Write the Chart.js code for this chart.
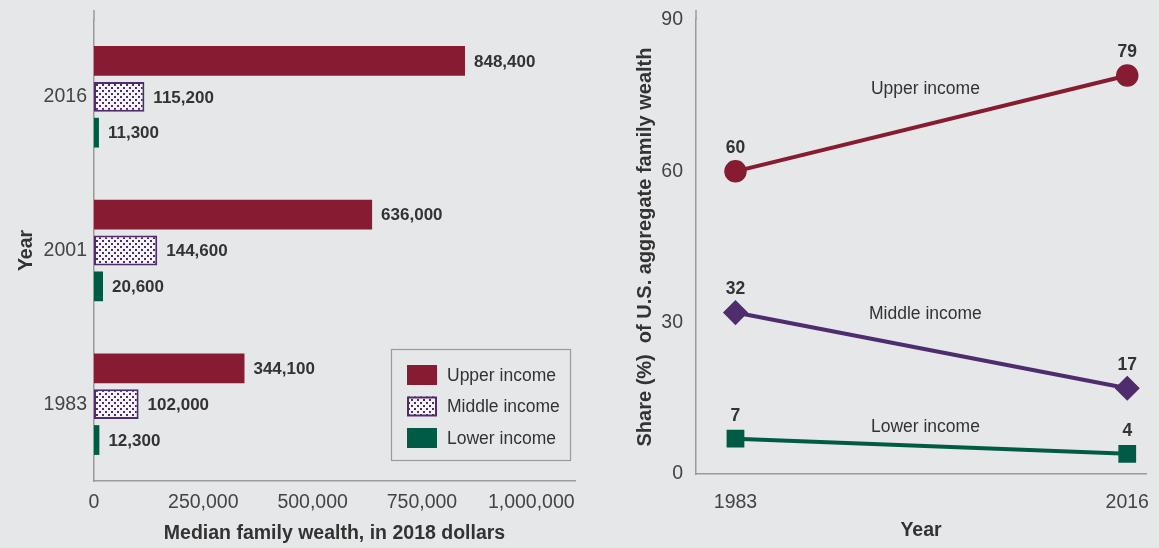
<!DOCTYPE html>
<html>
<head>
<meta charset="utf-8">
<script src="https://cdn.jsdelivr.net/npm/chart.js@4.4.1/dist/chart.umd.min.js"></script>
<style>
  html, body { margin: 0; padding: 0; background: #e6e7e9; }
  #wrap { position: relative; width: 1159px; height: 548px; overflow: hidden; }
  #wealth { position: absolute; left: 0; top: 0; }
  #share { position: absolute; left: 600px; top: 0; }
</style>
</head>
<body>
<div id="wrap">
  <canvas id="wealth" width="600" height="548"></canvas>
  <canvas id="share" width="559" height="548"></canvas>
</div>
<script>
// Median family wealth by income tier (2018 dollars)
const years = ['2016', '2001', '1983'];
const upperWealth = [848400, 636000, 344100];
const middleWealth = [115200, 144600, 102000];
const lowerWealth = [11300, 20600, 12300];
const wealthTicks = [0, 250000, 500000, 750000, 1000000];

// Share of U.S. aggregate family wealth (%)
const shareYears = [1983, 2016];
const upperShare = [60, 79];
const middleShare = [32, 17];
const lowerShare = [7, 4];
const shareTicks = [0, 30, 60, 90];

const tierNames = ['Upper income', 'Middle income', 'Lower income'];

const FONT = "'Liberation Sans Narrow', 'Arial Narrow', 'Liberation Sans', Arial, sans-serif";
const MAROON = '#861b32';
const PURPLE = '#4f2c6e';
const TEAL = '#005b45';
const TEXT = '#333333';
const TICK = '#444444';
const AXIS = '#9a9a9a';

Chart.defaults.font.family = FONT;
Chart.defaults.color = TICK;
Chart.defaults.animation = false;

// dotted fill used for the middle-income bars
function dotPattern(color) {
  const tile = document.createElement('canvas');
  tile.width = 6; tile.height = 6;
  const g = tile.getContext('2d');
  g.fillStyle = '#f4f3f6';
  g.fillRect(0, 0, 6, 6);
  g.fillStyle = color;
  g.fillRect(0, 0, 2, 2);
  g.fillRect(3, 3, 2, 2);
  return g.createPattern(tile, 'repeat');
}
const middleFill = dotPattern(PURPLE);

// keep the plot area fixed: no automatic room for overhanging tick labels
function noOverhang(scale) {
  scale.paddingLeft = 0;
  scale.paddingRight = 0;
  scale.paddingTop = 0;
  scale.paddingBottom = 0;
}

// extends the y axis line a little above the plot
const axisStub = {
  id: 'axisStub',
  afterDraw(chart) {
    const { ctx, chartArea } = chart;
    ctx.save();
    ctx.strokeStyle = AXIS;
    ctx.lineWidth = 1.5;
    ctx.beginPath();
    ctx.moveTo(chartArea.left, chartArea.top - 10);
    ctx.lineTo(chartArea.left, chartArea.top);
    ctx.stroke();
    ctx.restore();
  }
};

// value labels at the end of each bar
const barValues = {
  id: 'barValues',
  afterDatasetsDraw(chart) {
    const { ctx } = chart;
    ctx.save();
    ctx.font = 'bold 17px ' + FONT;
    ctx.fillStyle = TEXT;
    ctx.textAlign = 'left';
    ctx.textBaseline = 'middle';
    chart.data.datasets.forEach((ds, i) => {
      chart.getDatasetMeta(i).data.forEach((bar, j) => {
        ctx.fillText(ds.data[j].toLocaleString('en-US'), bar.x + 9, bar.y + 1);
      });
    });
    ctx.restore();
  }
};

// boxed legend in the lower right of the bar plot
const boxLegend = {
  id: 'boxLegend',
  afterDraw(chart) {
    const { ctx } = chart;
    const x0 = 391, y0 = 349, w = 179, h = 111;
    ctx.save();
    ctx.fillStyle = '#e6e7e9';
    ctx.fillRect(x0, y0, w, h);
    ctx.strokeStyle = AXIS;
    ctx.lineWidth = 1.2;
    ctx.strokeRect(x0 + 0.5, y0 + 0.5, w, h);
    ctx.font = '17.5px ' + FONT;
    ctx.textBaseline = 'middle';
    chart.data.datasets.forEach((ds, i) => {
      const cy = y0 + 26 + i * 31.5;
      ctx.fillStyle = ds.backgroundColor;
      ctx.fillRect(x0 + 16, cy - 10, 30, 20);
      if (ds.borderWidth) {
        ctx.strokeStyle = ds.borderColor;
        ctx.lineWidth = 2;
        ctx.strokeRect(x0 + 17, cy - 9, 28, 18);
      }
      ctx.fillStyle = TEXT;
      ctx.fillText(ds.label, x0 + 56, cy + 1);
    });
    ctx.restore();
  }
};

new Chart(document.getElementById('wealth'), {
  type: 'bar',
  data: {
    labels: years,
    datasets: [
      { label: tierNames[0], data: upperWealth, backgroundColor: MAROON, borderWidth: 0 },
      { label: tierNames[1], data: middleWealth, backgroundColor: middleFill, borderColor: PURPLE, borderWidth: 2, borderSkipped: false },
      { label: tierNames[2], data: lowerWealth, backgroundColor: TEAL, borderWidth: 0 }
    ]
  },
  options: {
    indexAxis: 'y',
    responsive: false,
    categoryPercentage: 0.70,
    barPercentage: 0.83,
    layout: { padding: { top: 20, right: 25, left: 0, bottom: 0 } },
    plugins: { legend: { display: false }, tooltip: { enabled: false } },
    scales: {
      x: {
        type: 'linear',
        min: 0,
        max: 1100000,
        afterBuildTicks(scale) { scale.ticks = wealthTicks.map(v => ({ value: v })); },
        afterFit(scale) { scale.height = 67; noOverhang(scale); },
        grid: { display: false, drawTicks: false },
        border: { color: AXIS, width: 1.5 },
        ticks: {
          font: { size: 19.5 }, color: TICK, padding: 10, maxRotation: 0,
          callback: v => Number(v).toLocaleString('en-US')
        },
        title: {
          display: true, text: 'Median family wealth, in 2018 dollars',
          font: { size: 19.5, weight: 'bold' }, color: TEXT,
          padding: { top: 0, bottom: 3 }
        }
      },
      y: {
        afterFit(scale) { scale.width = 94; noOverhang(scale); },
        grid: { display: false, drawTicks: false },
        border: { color: AXIS, width: 1.5 },
        ticks: { font: { size: 19.5 }, color: TICK, padding: 7 },
        title: {
          display: true, text: 'Year',
          font: { size: 19.5, weight: 'bold' }, color: TEXT,
          padding: { top: 15, bottom: 0 }
        }
      }
    }
  },
  plugins: [axisStub, barValues, boxLegend]
});

// point value labels and series names on the share chart
const shareLabels = {
  id: 'shareLabels',
  afterDatasetsDraw(chart) {
    const { ctx, scales } = chart;
    ctx.save();
    ctx.fillStyle = TEXT;
    ctx.textAlign = 'center';
    ctx.textBaseline = 'middle';
    chart.data.datasets.forEach((ds, i) => {
      ctx.font = 'bold 17.5px ' + FONT;
      chart.getDatasetMeta(i).data.forEach((pt, j) => {
        ctx.fillText(String(ds.data[j].y), pt.x, pt.y - 23);
      });
      ctx.font = '17.5px ' + FONT;
      ctx.fillText(ds.label, scales.x.getPixelForValue(ds.nameAt.x), scales.y.getPixelForValue(ds.nameAt.y));
    });
    ctx.restore();
  }
};

const toPoints = vals => shareYears.map((yr, k) => ({ x: yr, y: vals[k] }));

new Chart(document.getElementById('share'), {
  type: 'line',
  data: {
    datasets: [
      { label: tierNames[0], data: toPoints(upperShare), borderColor: MAROON, backgroundColor: MAROON,
        pointStyle: 'circle', pointRadius: 10.5, nameAt: { x: 1999.0, y: 76.2 } },
      { label: tierNames[1], data: toPoints(middleShare), borderColor: PURPLE, backgroundColor: PURPLE,
        pointStyle: 'rectRot', pointRadius: 11.5, nameAt: { x: 1999.0, y: 31.7 } },
      { label: tierNames[2], data: toPoints(lowerShare), borderColor: TEAL, backgroundColor: TEAL,
        pointStyle: 'rect', pointRadius: 11.5, nameAt: { x: 1999.0, y: 9.3 } }
    ]
  },
  options: {
    responsive: false,
    layout: { padding: { top: 20, right: 3, left: 0, bottom: 0 } },
    elements: {
      line: { borderWidth: 4, tension: 0 },
      point: { borderColor: '#ffffff', borderWidth: 1.5 }
    },
    plugins: { legend: { display: false }, tooltip: { enabled: false } },
    scales: {
      x: {
        type: 'linear',
        min: 1979.675,
        max: 2017.58,
        afterBuildTicks(scale) { scale.ticks = shareYears.map(v => ({ value: v })); },
        afterFit(scale) { scale.height = 74; noOverhang(scale); },
        grid: { display: false, drawTicks: false },
        border: { color: AXIS, width: 1.5 },
        ticks: { font: { size: 19.5 }, color: TICK, padding: 17, maxRotation: 0, callback: v => String(v) },
        title: {
          display: true, text: 'Year',
          font: { size: 19.5, weight: 'bold' }, color: TEXT,
          padding: { top: 0, bottom: 6 }
        }
      },
      y: {
        min: 0,
        max: 90,
        afterBuildTicks(scale) { scale.ticks = shareTicks.map(v => ({ value: v })); },
        afterFit(scale) { scale.width = 96; noOverhang(scale); },
        grid: { display: false, drawTicks: false },
        border: { color: AXIS, width: 1.5 },
        ticks: { font: { size: 19.5 }, color: TICK, padding: 13 },
        title: {
          display: true, text: 'Share (%)  of U.S. aggregate family wealth',
          font: { size: 20, weight: 'bold' }, color: TEXT,
          padding: { top: 33, bottom: 0 }
        }
      }
    }
  },
  plugins: [axisStub, shareLabels]
});
</script>
</body>
</html>
